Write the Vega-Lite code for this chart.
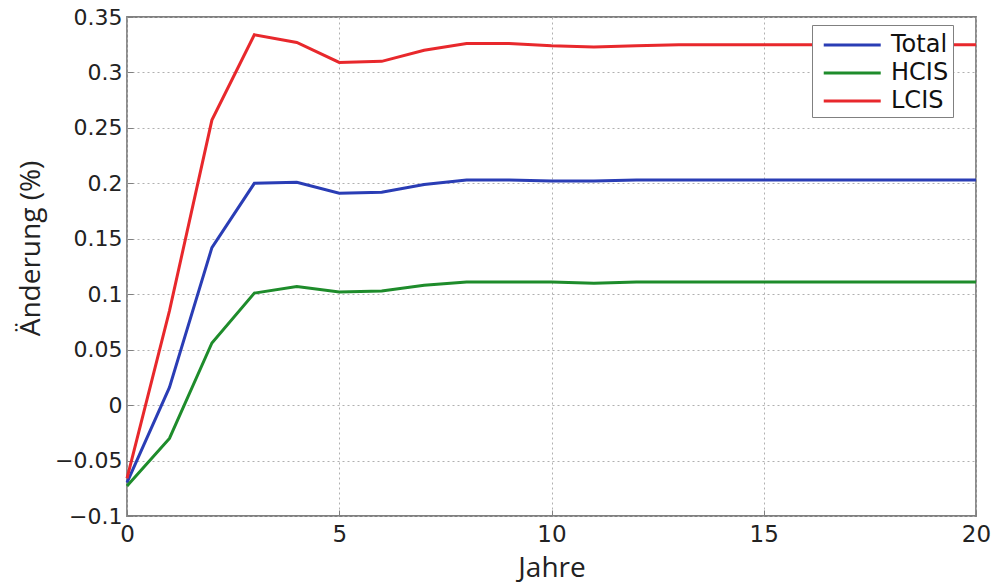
{
  "$schema": "https://vega.github.io/schema/vega-lite/v6.json",
  "width": 849,
  "height": 499,
  "autosize": {"type": "none"},
  "padding": {"left": 127, "top": 17, "right": 24, "bottom": 70},
  "background": "white",
  "config": {
    "view": {"stroke": "#808080", "strokeWidth": 1.8},
    "font": "DejaVu Sans"
  },
  "data": {
    "values": [
      {"Jahr": 0, "Serie": "Total", "Wert": -0.070},
      {"Jahr": 1, "Serie": "Total", "Wert": 0.016},
      {"Jahr": 2, "Serie": "Total", "Wert": 0.142},
      {"Jahr": 3, "Serie": "Total", "Wert": 0.200},
      {"Jahr": 4, "Serie": "Total", "Wert": 0.201},
      {"Jahr": 5, "Serie": "Total", "Wert": 0.191},
      {"Jahr": 6, "Serie": "Total", "Wert": 0.192},
      {"Jahr": 7, "Serie": "Total", "Wert": 0.199},
      {"Jahr": 8, "Serie": "Total", "Wert": 0.203},
      {"Jahr": 9, "Serie": "Total", "Wert": 0.203},
      {"Jahr": 10, "Serie": "Total", "Wert": 0.202},
      {"Jahr": 11, "Serie": "Total", "Wert": 0.202},
      {"Jahr": 12, "Serie": "Total", "Wert": 0.203},
      {"Jahr": 13, "Serie": "Total", "Wert": 0.203},
      {"Jahr": 14, "Serie": "Total", "Wert": 0.203},
      {"Jahr": 15, "Serie": "Total", "Wert": 0.203},
      {"Jahr": 16, "Serie": "Total", "Wert": 0.203},
      {"Jahr": 17, "Serie": "Total", "Wert": 0.203},
      {"Jahr": 18, "Serie": "Total", "Wert": 0.203},
      {"Jahr": 19, "Serie": "Total", "Wert": 0.203},
      {"Jahr": 20, "Serie": "Total", "Wert": 0.203},
      {"Jahr": 0, "Serie": "HCIS", "Wert": -0.073},
      {"Jahr": 1, "Serie": "HCIS", "Wert": -0.030},
      {"Jahr": 2, "Serie": "HCIS", "Wert": 0.056},
      {"Jahr": 3, "Serie": "HCIS", "Wert": 0.101},
      {"Jahr": 4, "Serie": "HCIS", "Wert": 0.107},
      {"Jahr": 5, "Serie": "HCIS", "Wert": 0.102},
      {"Jahr": 6, "Serie": "HCIS", "Wert": 0.103},
      {"Jahr": 7, "Serie": "HCIS", "Wert": 0.108},
      {"Jahr": 8, "Serie": "HCIS", "Wert": 0.111},
      {"Jahr": 9, "Serie": "HCIS", "Wert": 0.111},
      {"Jahr": 10, "Serie": "HCIS", "Wert": 0.111},
      {"Jahr": 11, "Serie": "HCIS", "Wert": 0.110},
      {"Jahr": 12, "Serie": "HCIS", "Wert": 0.111},
      {"Jahr": 13, "Serie": "HCIS", "Wert": 0.111},
      {"Jahr": 14, "Serie": "HCIS", "Wert": 0.111},
      {"Jahr": 15, "Serie": "HCIS", "Wert": 0.111},
      {"Jahr": 16, "Serie": "HCIS", "Wert": 0.111},
      {"Jahr": 17, "Serie": "HCIS", "Wert": 0.111},
      {"Jahr": 18, "Serie": "HCIS", "Wert": 0.111},
      {"Jahr": 19, "Serie": "HCIS", "Wert": 0.111},
      {"Jahr": 20, "Serie": "HCIS", "Wert": 0.111},
      {"Jahr": 0, "Serie": "LCIS", "Wert": -0.066},
      {"Jahr": 1, "Serie": "LCIS", "Wert": 0.085},
      {"Jahr": 2, "Serie": "LCIS", "Wert": 0.257},
      {"Jahr": 3, "Serie": "LCIS", "Wert": 0.334},
      {"Jahr": 4, "Serie": "LCIS", "Wert": 0.327},
      {"Jahr": 5, "Serie": "LCIS", "Wert": 0.309},
      {"Jahr": 6, "Serie": "LCIS", "Wert": 0.310},
      {"Jahr": 7, "Serie": "LCIS", "Wert": 0.320},
      {"Jahr": 8, "Serie": "LCIS", "Wert": 0.326},
      {"Jahr": 9, "Serie": "LCIS", "Wert": 0.326},
      {"Jahr": 10, "Serie": "LCIS", "Wert": 0.324},
      {"Jahr": 11, "Serie": "LCIS", "Wert": 0.323},
      {"Jahr": 12, "Serie": "LCIS", "Wert": 0.324},
      {"Jahr": 13, "Serie": "LCIS", "Wert": 0.325},
      {"Jahr": 14, "Serie": "LCIS", "Wert": 0.325},
      {"Jahr": 15, "Serie": "LCIS", "Wert": 0.325},
      {"Jahr": 16, "Serie": "LCIS", "Wert": 0.325},
      {"Jahr": 17, "Serie": "LCIS", "Wert": 0.325},
      {"Jahr": 18, "Serie": "LCIS", "Wert": 0.325},
      {"Jahr": 19, "Serie": "LCIS", "Wert": 0.325},
      {"Jahr": 20, "Serie": "LCIS", "Wert": 0.325}
    ]
  },
  "mark": {"type": "line", "strokeWidth": 3},
  "encoding": {
    "x": {
      "field": "Jahr",
      "type": "quantitative",
      "scale": {"domain": [0, 20], "nice": false},
      "axis": {
        "values": [0, 5, 10, 15, 20],
        "title": "Jahre",
        "titleFont": "Open Sans",
        "titleFontSize": 28,
        "titleFontWeight": "normal",
        "titleColor": "#222222",
        "titleBaseline": "middle",
        "titleY": 52,
        "labelFontSize": 23,
        "labelColor": "#222222",
        "labelPadding": 13,
        "labelFlush": false,
        "domain": false,
        "tickSize": -6,
        "tickColor": "#808080",
        "grid": true,
        "gridDash": [2, 3],
        "gridColor": "#b0b0b0"
      }
    },
    "y": {
      "field": "Wert",
      "type": "quantitative",
      "scale": {"domain": [-0.1, 0.35], "nice": false, "zero": false},
      "axis": {
        "values": [-0.1, -0.05, 0, 0.05, 0.1, 0.15, 0.2, 0.25, 0.3, 0.35],
        "labelExpr": "replace(format(datum.value, '.2~f'), /^(-?)0?\\./, '$10.')",
        "title": "Änderung (%)",
        "titleFont": "Open Sans",
        "titleFontSize": 28,
        "titleFontWeight": "normal",
        "titleColor": "#222222",
        "titleBaseline": "middle",
        "titleX": -96,
        "titleY": 231,
        "titleAnchor": "middle",
        "labelFontSize": 22,
        "labelColor": "#222222",
        "labelPadding": 11,
        "labelFlush": false,
        "domain": false,
        "tickSize": -6,
        "tickColor": "#808080",
        "grid": true,
        "gridDash": [2, 3],
        "gridColor": "#b0b0b0"
      }
    },
    "color": {
      "field": "Serie",
      "type": "nominal",
      "sort": ["Total", "HCIS", "LCIS"],
      "scale": {"domain": ["Total", "HCIS", "LCIS"], "range": ["#2a3db5", "#1e8c2b", "#e8282c"]},
      "legend": {
        "title": null,
        "orient": "none",
        "legendX": 685,
        "legendY": 8,
        "symbolType": "M-0.58,0H3.42",
        "symbolSize": 812,
        "symbolStrokeWidth": 3,
        "labelFontSize": 24,
        "labelColor": "#111111",
        "labelOffset": 43,
        "labelExpr": "datum.label + '\u00a0\u00a0'",
        "rowPadding": 0,
        "fillColor": "white",
        "strokeColor": "#808080",
        "padding": 4
      }
    }
  }
}
